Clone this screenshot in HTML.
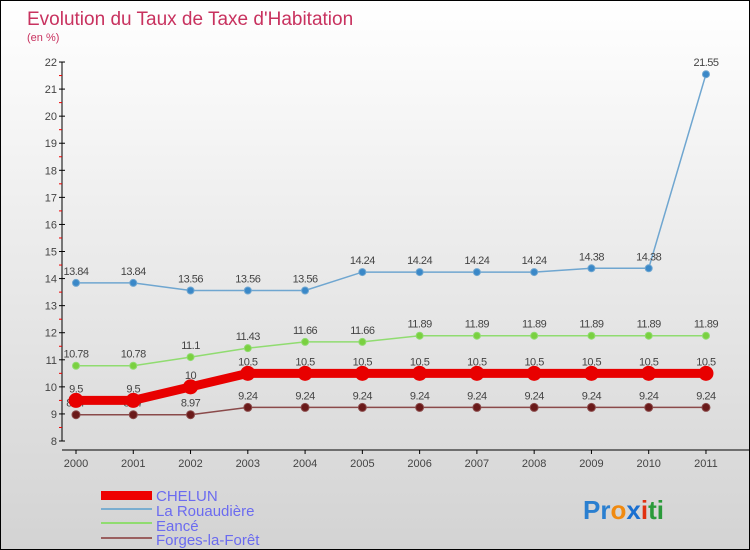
<!DOCTYPE html>
<html><head><meta charset="utf-8"><style>
body{margin:0}
#c{width:750px;height:550px;position:relative;box-sizing:border-box;border:1px solid #000;background:linear-gradient(#fff,#d3d3d3);font-family:"Liberation Sans",sans-serif;overflow:hidden}
</style></head><body>
<div id="c">
<svg id="s" width="748" height="548" style="position:absolute;left:0;top:0">
<text x="26" y="24" font-size="19" fill="#c8325f">Evolution du Taux de Taxe d'Habitation</text>
<text x="26" y="40" font-size="11" fill="#c8325f">(en %)</text>
<g id="axes"></g><g id="series"></g>
<g>
<rect x="100" y="490" width="51" height="9" fill="#e00"/>
<text x="155" y="500" font-size="15" fill="#6b6bf0">CHELUN</text>
<line x1="100" y1="508" x2="151" y2="508" stroke="#7aaed0" stroke-width="2"/>
<text x="155" y="515" font-size="15" fill="#6b6bf0">La Rouaudière</text>
<line x1="100" y1="522" x2="151" y2="522" stroke="#90dc70" stroke-width="2"/>
<text x="155" y="530" font-size="15" fill="#6b6bf0">Eancé</text>
<line x1="100" y1="537" x2="151" y2="537" stroke="#9a6060" stroke-width="2"/>
<text x="155" y="544" font-size="15" fill="#6b6bf0">Forges-la-Forêt</text>
</g>
<text x="582" y="518" font-size="26" font-weight="bold"><tspan fill="#2a7fd0">Pr</tspan><tspan fill="#f08a10">o</tspan><tspan fill="#1a6fd0">x</tspan><tspan fill="#e03010">i</tspan><tspan fill="#2a9a3a">ti</tspan></text>
</svg>
</div>
<script>
const years=["2000","2001","2002","2003","2004","2005","2006","2007","2008","2009","2010","2011"];
const yTicks=[8,9,10,11,12,13,14,15,16,17,18,19,20,21,22];
const chelun=[9.5,9.5,10,10.5,10.5,10.5,10.5,10.5,10.5,10.5,10.5,10.5];
const rouaudiere=[13.84,13.84,13.56,13.56,13.56,14.24,14.24,14.24,14.24,14.38,14.38,21.55];
const ance=[10.78,10.78,11.1,11.43,11.66,11.66,11.89,11.89,11.89,11.89,11.89,11.89];
const forges=[8.97,8.97,8.97,9.24,9.24,9.24,9.24,9.24,9.24,9.24,9.24,9.24];
const NS="http://www.w3.org/2000/svg";
const X=i=>75+i*57.27, Y=v=>440-(v-8)*27.07;
function el(t,a,p){const e=document.createElementNS(NS,t);for(const k in a)e.setAttribute(k,a[k]);p.appendChild(e);return e;}
const ax=document.getElementById('axes'), sg=document.getElementById('series');
const ya=el('line',{x1:61,y1:Y(22),x2:61,y2:Y(8),stroke:'#000'},ax);


yTicks.forEach(v=>{
 el('line',{x1:58,y1:Y(v),x2:64,y2:Y(v),stroke:'#000'},ax);
 if(v<22) el('line',{x1:58,y1:Y(v+0.5),x2:61,y2:Y(v+0.5),stroke:'#e00'},ax);
 const t=el('text',{x:56,y:Y(v)+4,'font-size':11,'text-anchor':'end',fill:'#444'},ax);t.textContent=v;
 
 
});
const xa=el('line',{x1:61,y1:449,x2:748,y2:449,stroke:'#000'},ax);


years.forEach((y,i)=>{
 el('line',{x1:X(i),y1:449,x2:X(i),y2:453,stroke:'#000'},ax);
 const t=el('text',{x:X(i),y:466,'font-size':11,'text-anchor':'middle',fill:'#444'},ax);t.textContent=y;
 
 
});
function series(d,name,color,w,r,dot){
 const p=el('polyline',{points:d.map((v,i)=>X(i)+','+Y(v)).join(' '),fill:'none',stroke:color,'stroke-width':w},sg);
 
 
 d.forEach((v,i)=>{
  const c=el('circle',{cx:X(i),cy:Y(v),r:r,fill:dot,stroke:color,'stroke-width':1},sg);
  
  
  const t=el('text',{x:X(i),y:Y(v)-8,'font-size':11,'text-anchor':'middle',fill:'#444','letter-spacing':'-0.5'},sg);t.textContent=v;
  
  
 });
}
series(forges,'forges','#8a4a4a',1.5,4,'#6a1a1a');
series(ance,'ance','#90dc70',1.5,3.5,'#7ad040');
series(rouaudiere,'rouaudiere','#6fa6d0',1.5,3.5,'#3a88c8');
series(chelun,'chelun','#e80000',9,7,'#e80000');
</script>
</body></html>
